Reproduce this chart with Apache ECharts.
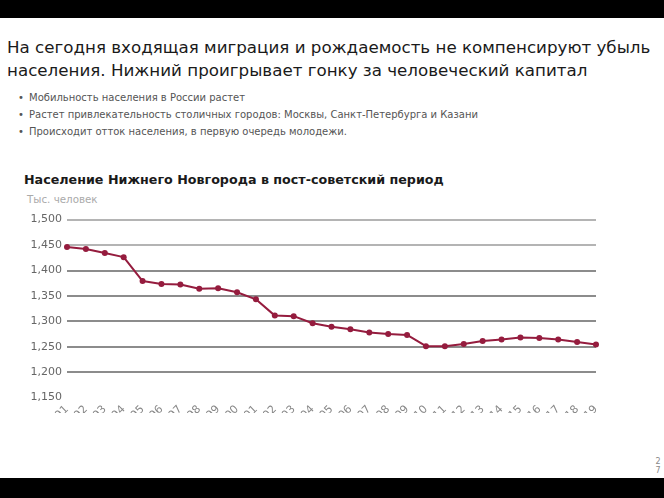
<!DOCTYPE html>
<html>
<head>
<meta charset="utf-8">
<script src="https://cdn.jsdelivr.net/npm/echarts@6/dist/echarts.min.js"></script>
<style>
  html, body { margin: 0; padding: 0; background: #fff; }
  body { width: 664px; height: 498px; position: relative; overflow: hidden; font-family: "DejaVu Sans", sans-serif; }
  .bar { position: absolute; left: 0; width: 664px; background: #000; }
  #head { position: absolute; left: 7px; top: 36px; font-size: 16.7px; line-height: 22.5px; color: #1a1a1a; white-space: nowrap; }
  #bullets { position: absolute; left: 18px; top: 89px; margin: 0; padding: 0; list-style: none; font-size: 10px; color: #555; }
  #bullets li { height: 17px; line-height: 17px; white-space: nowrap; }
  #bullets li::before { content: "•"; display: inline-block; width: 11px; }
  #ctitle { position: absolute; left: 24px; top: 172px; font-size: 12.7px; font-weight: bold; color: #1a1a1a; white-space: nowrap; }
  #unit { position: absolute; left: 27px; top: 193px; font-size: 10.3px; color: #aaa; white-space: nowrap; }
  #chart { position: absolute; left: 0; top: 190px; width: 664px; height: 223px; }
  #pg { position: absolute; left: 654px; top: 457px; font-size: 8px; line-height: 9px; color: #888; text-align: center; width: 8px; }
</style>
</head>
<body>
<div class="bar" style="top:0;height:18px"></div>
<div id="head">На сегодня входящая миграция и рождаемость не компенсируют убыль<br>населения. Нижний проигрывает гонку за человеческий капитал</div>
<ul id="bullets">
  <li>Мобильность населения в России растет</li>
  <li>Растет привлекательность столичных городов: Москвы, Санкт-Петербурга и Казани</li>
  <li>Происходит отток населения, в первую очередь молодежи.</li>
</ul>
<div id="ctitle">Население Нижнего Новгорода в пост-советский период</div>
<div id="unit">Тыс. человек</div>
<div id="chart"></div>
<div id="pg">2<br>7</div>
<div class="bar" style="top:478px;height:20px"></div>
<script>
const years = ['1991','1992','1993','1994','1995','1996','1997','1998','1999','2000',
               '2001','2002','2003','2004','2005','2006','2007','2008','2009','2010',
               '2011','2012','2013','2014','2015','2016','2017','2018','2019'];
const population = [1446, 1442, 1434, 1426, 1379, 1373, 1372, 1364, 1365, 1357,
                    1343, 1311, 1310, 1296, 1289, 1284, 1278, 1275, 1273, 1251,
                    1251, 1255, 1261, 1264, 1268, 1267, 1264, 1259, 1254];
const yMin = 1150, yMax = 1500, yStep = 50;

const chart = echarts.init(document.getElementById('chart'), null, { renderer: 'canvas' });
chart.setOption({
  animation: false,
  grid: { left: 67, right: 68, top: 29.5, bottom: 15.5, containLabel: false, outerBoundsMode: 'none' },
  xAxis: {
    type: 'category',
    data: years,
    boundaryGap: false,
    axisLine: { show: false },
    axisTick: { show: false },
    axisLabel: { rotate: 45, margin: 10, color: '#888', fontSize: 11, fontFamily: 'DejaVu Sans', interval: 0, hideOverlap: false },
    splitLine: { show: false }
  },
  yAxis: {
    type: 'value',
    min: yMin, max: yMax, interval: yStep,
    axisLine: { show: false },
    axisTick: { show: false },
    axisLabel: {
      color: '#666', fontSize: 11, fontFamily: 'DejaVu Sans', margin: 5,
      formatter: v => v.toLocaleString('en-US')
    },
    splitLine: {
      show: true,
      lineStyle: { width: 2, color: ['rgba(0,0,0,0)', '#8c8c8c', '#8c8c8c', '#8c8c8c', '#8c8c8c', '#8c8c8c', '#b4b4b4', '#b4b4b4'] }
    }
  },
  series: [{
    type: 'line',
    data: population,
    symbol: 'circle',
    symbolSize: 6,
    lineStyle: { color: '#951c3e', width: 2 },
    itemStyle: { color: '#951c3e' }
  }]
});
</script>
</body>
</html>
